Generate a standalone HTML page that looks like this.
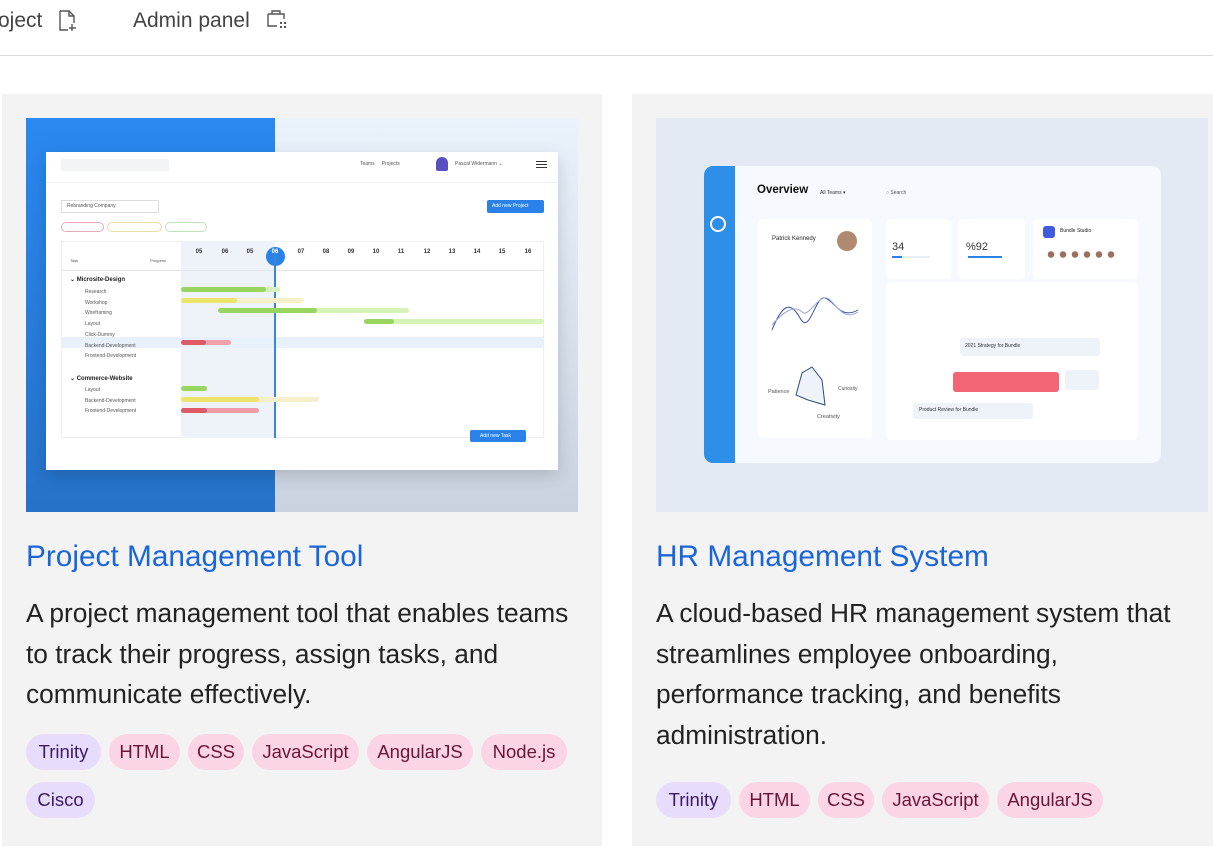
<!DOCTYPE html>
<html><head><meta charset="utf-8"><style>
*{margin:0;padding:0;box-sizing:border-box}
body{width:1213px;height:867px;overflow:hidden;background:#fff;font-family:"Liberation Sans",sans-serif;position:relative;color:#212529}
.a{position:absolute}
.nav{font-size:21px;color:#444;top:9px}
.card{background:#f3f3f3;top:94px;height:752px}
.title{font-size:29.8px;color:#1a66d9;top:540px;white-space:nowrap}
.desc{font-size:26.3px;line-height:40.5px;color:#222;top:593px;white-space:nowrap}
.tag{position:absolute;height:36px;border-radius:18px;font-size:18.5px;line-height:36px;text-align:center;white-space:nowrap}
.p{background:#e7dcfb;color:#3c1a66}
.k{background:#fbd5e5;color:#6b1535}
.t{font-size:5px;color:#555;white-space:nowrap}
.d{position:absolute;top:249px;font-size:6px;font-weight:bold;color:#333;width:16px;text-align:center}
.bar{position:absolute;height:5px;border-radius:3px}
</style></head><body>
<div class="a nav" style="left:-2px">oject</div>
<svg class="a" style="left:58px;top:9px" width="20" height="24"><path d="M2 2h9l5 5v7M2 2v19h8M11 2v5h5M14 15v7M11 19h7" fill="none" stroke="#555" stroke-width="1.4"/></svg>
<div class="a nav" style="left:133px">Admin panel</div>
<svg class="a" style="left:266px;top:9px" width="24" height="22"><path d="M6 5V2h8v3M2 5h16v5M2 5v12h9" fill="none" stroke="#555" stroke-width="1.4"/><rect x="14" y="13" width="2" height="2" fill="#555"/><rect x="18" y="13" width="2" height="2" fill="#555"/><rect x="14" y="17" width="2" height="2" fill="#555"/><rect x="18" y="17" width="2" height="2" fill="#555"/></svg>
<div class="a" style="left:0;top:55px;width:1213px;height:1px;background:#ddd"></div>

<div class="a card" style="left:2px;width:600px"></div>
<div class="a card" style="left:632px;width:600px"></div>

<!-- image 1 -->
<div class="a" style="left:26px;top:118px;width:552px;height:394px;background:linear-gradient(#eaf2fc,#c9d3df)"></div>
<div class="a" style="left:26px;top:118px;width:249px;height:394px;background:linear-gradient(#2a88f0,#2672c8)"></div>
<div class="a" style="left:46px;top:152px;width:512px;height:318px;background:#fff;box-shadow:0 6px 16px rgba(0,0,0,.15)"></div>
<div class="a" style="left:46px;top:182px;width:512px;height:1px;background:#eee"></div>
<div class="a" style="left:61px;top:159px;width:108px;height:12px;background:#f3f4f6;border-radius:2px"></div>
<div class="a t" style="left:360px;top:161px">Teams &nbsp;&nbsp;&nbsp; Projects</div>
<div class="a" style="left:436px;top:157px;width:12px;height:14px;background:#5a4fbf;border-radius:6px 6px 2px 2px"></div>
<div class="a t" style="left:455px;top:161px">Pascal Widermann ⌄</div>
<div class="a" style="left:536px;top:161px;width:11px;height:1px;background:#333;box-shadow:0 3px 0 #333,0 6px 0 #333"></div>
<div class="a" style="left:61px;top:200px;width:98px;height:13px;border:1px solid #ddd"></div>
<div class="a t" style="left:67px;top:203px">Rebranding Company</div>
<div class="a" style="left:487px;top:200px;width:57px;height:13px;background:#2a82e8;border-radius:2px"></div>
<div class="a t" style="left:492px;top:203px;color:#fff">Add new Project</div>
<div class="a" style="left:61px;top:222px;width:43px;height:10px;border:1px solid #e6a9b8;border-radius:6px"></div>
<div class="a" style="left:107px;top:222px;width:55px;height:10px;border:1px solid #e9dca5;border-radius:6px"></div>
<div class="a" style="left:165px;top:222px;width:42px;height:10px;border:1px solid #bfe3b4;border-radius:6px"></div>
<div class="a" style="left:61px;top:241px;width:483px;height:197px;border:1px solid #eee"></div>
<div class="a" style="left:181px;top:241px;width:94px;height:197px;background:#eef3fa"></div>
<div class="a" style="left:61px;top:270px;width:483px;height:1px;background:#e6e6e6"></div>
<div class="a" style="left:61px;top:337px;width:483px;height:11px;background:#e8f0fa"></div>
<div class="a" style="left:266px;top:247px;width:19px;height:19px;border-radius:50%;background:#2a82e8"></div>
<div class="a" style="left:274px;top:248px;width:1.5px;height:190px;background:#3b86d8"></div>
<div class="d" style="left:191px">05</div><div class="d" style="left:217px">06</div><div class="d" style="left:242px">05</div><div class="d" style="left:267px;color:#fff">06</div>
<div class="d" style="left:293px">07</div><div class="d" style="left:318px">08</div><div class="d" style="left:343px">09</div><div class="d" style="left:368px">10</div><div class="d" style="left:393px">11</div><div class="d" style="left:419px">12</div><div class="d" style="left:444px">13</div><div class="d" style="left:469px">14</div><div class="d" style="left:494px">15</div><div class="d" style="left:520px">16</div>
<div class="a t" style="left:70px;top:258px;font-size:4px">Task</div>
<div class="a t" style="left:150px;top:258px;font-size:4px">Progress</div>
<div class="a t" style="left:70px;top:276px;font-size:6px;font-weight:bold;color:#222">⌄ Microsite-Design</div>
<div class="a t" style="left:85px;top:287px;line-height:10.7px">Research<br>Workshop<br>Wireframing<br>Layout<br>Click-Dummy<br>Backend-Development<br>Frontend-Development</div>
<div class="a t" style="left:70px;top:375px;font-size:6px;font-weight:bold;color:#222">⌄ Commerce-Website</div>
<div class="a t" style="left:85px;top:385px;line-height:10.7px">Layout<br>Backend-Development<br>Frontend-Development</div>
<div class="bar" style="left:181px;top:287px;width:99px;background:#d6efbf"></div><div class="bar" style="left:181px;top:287px;width:85px;background:#98d661"></div>
<div class="bar" style="left:181px;top:298px;width:123px;background:#f5f0c9"></div><div class="bar" style="left:181px;top:298px;width:56px;background:#ece46b"></div>
<div class="bar" style="left:218px;top:308px;width:191px;background:#d6f4b9"></div><div class="bar" style="left:218px;top:308px;width:99px;background:#98d661"></div>
<div class="bar" style="left:364px;top:319px;width:180px;background:#d6f4b9"></div><div class="bar" style="left:364px;top:319px;width:30px;background:#98d661"></div>
<div class="bar" style="left:181px;top:340px;width:50px;background:#f0a2ac"></div><div class="bar" style="left:181px;top:340px;width:25px;background:#de5a66"></div>
<div class="bar" style="left:181px;top:386px;width:26px;background:#98d661"></div>
<div class="bar" style="left:181px;top:397px;width:138px;background:#f5f0c9"></div><div class="bar" style="left:181px;top:397px;width:78px;background:#ece46b"></div>
<div class="bar" style="left:181px;top:408px;width:78px;background:#ef9ca7"></div><div class="bar" style="left:181px;top:408px;width:26px;background:#de5a66"></div>
<div class="a" style="left:470px;top:430px;width:56px;height:12px;background:#2a82e8;border-radius:2px"></div>
<div class="a t" style="left:480px;top:433px;color:#fff">Add new Task</div>

<!-- image 2 -->
<div class="a" style="left:656px;top:118px;width:552px;height:394px;background:#e4eaf4"></div>
<div class="a" style="left:704px;top:166px;width:457px;height:297px;background:#f6f9fd;border-radius:9px;overflow:hidden"><div class="a" style="left:0;top:0;width:31px;height:297px;background:#2d8fe8"></div></div>
<div class="a" style="left:710px;top:216px;width:16px;height:16px;border:2.5px solid #fff;border-radius:50%"></div>
<div class="a" style="left:757px;top:184px;font-size:11.5px;font-weight:bold;color:#111">Overview</div>
<div class="a t" style="left:820px;top:190px;color:#333">All Teams ▾</div>
<div class="a t" style="left:886px;top:190px">○ Search</div>
<div class="a" style="left:758px;top:219px;width:114px;height:219px;background:#fff;border-radius:5px"></div>
<div class="a t" style="left:772px;top:236px;font-size:6px;color:#222">Patrick Kennedy</div>
<div class="a" style="left:837px;top:231px;width:20px;height:20px;border-radius:50%;background:#b08a70"></div>
<svg class="a" style="left:770px;top:290px" width="90" height="45"><path d="M2 40C12 15 20 10 30 28S45 5 55 8S70 30 88 20" fill="none" stroke="#3a4fa0" stroke-width="1"/><path d="M2 35C15 20 25 15 32 22S50 0 60 10S75 30 88 22" fill="none" stroke="#9aa6d8" stroke-width="1"/></svg>
<svg class="a" style="left:790px;top:365px" width="50" height="50"><polygon points="22,2 32,15 35,40 18,35 6,30 12,8" fill="#eef3fa" stroke="#2e4a80" stroke-width="1"/></svg>
<div class="a t" style="left:768px;top:389px;font-size:5.5px">Patience</div><div class="a t" style="left:838px;top:386px">Curiosity</div><div class="a t" style="left:817px;top:414px;font-size:5.5px">Creativity</div>
<div class="a" style="left:886px;top:219px;width:65px;height:60px;background:#fff;border-radius:5px"></div>
<div class="a" style="left:958px;top:219px;width:67px;height:60px;background:#fff;border-radius:5px"></div>
<div class="a" style="left:1033px;top:219px;width:105px;height:60px;background:#fff;border-radius:5px"></div>
<div class="a" style="left:892px;top:241px;font-size:11px;color:#333">34</div>
<div class="a" style="left:966px;top:241px;font-size:11px;color:#333">%92</div>
<div class="a" style="left:892px;top:256px;width:38px;height:2px;background:#e6eef8"><div style="width:10px;height:2px;background:#2a82e8"></div></div>
<div class="a" style="left:968px;top:256px;width:34px;height:2px;background:#2a82e8"></div>
<div class="a" style="left:1043px;top:226px;width:12px;height:12px;background:#3f5be0;border-radius:3px"></div>
<div class="a t" style="left:1060px;top:228px;color:#222">Bundle Studio</div>
<div class="a" style="left:1045px;top:251px;width:72px;height:7px;background:radial-gradient(circle,#9a7060 3px,transparent 3.5px) 0 0/12px 7px"></div>
<div class="a" style="left:886px;top:282px;width:252px;height:158px;background:#fff;border-radius:5px"></div>
<div class="a" style="left:960px;top:338px;width:140px;height:18px;background:#eef3fa;border-radius:3px"></div>
<div class="a t" style="left:965px;top:343px;color:#333">2021 Strategy for Bundle</div>
<div class="a" style="left:953px;top:372px;width:106px;height:20px;background:#f26673;border-radius:3px"></div>
<div class="a" style="left:1065px;top:370px;width:34px;height:20px;background:#eef3fa;border-radius:3px"></div>
<div class="a" style="left:913px;top:403px;width:120px;height:16px;background:#eef3fa;border-radius:3px"></div>
<div class="a t" style="left:919px;top:407px;color:#333">Product Review for Bundle</div>

<!-- text card 1 -->
<div class="a title" style="left:26px">Project Management Tool</div>
<div class="a desc" style="left:26px">A project management tool that enables teams<br>to track their progress, assign tasks, and<br>communicate effectively.</div>
<span class="tag p" style="left:26px;top:734px;width:75px">Trinity</span>
<span class="tag k" style="left:109px;top:734px;width:71px">HTML</span>
<span class="tag k" style="left:188px;top:734px;width:56px">CSS</span>
<span class="tag k" style="left:252px;top:734px;width:107px">JavaScript</span>
<span class="tag k" style="left:367px;top:734px;width:106px">AngularJS</span>
<span class="tag k" style="left:481px;top:734px;width:86px">Node.js</span>
<span class="tag p" style="left:26px;top:782px;width:69px">Cisco</span>

<!-- text card 2 -->
<div class="a title" style="left:656px">HR Management System</div>
<div class="a desc" style="left:656px">A cloud-based HR management system that<br>streamlines employee onboarding,<br>performance tracking, and benefits<br>administration.</div>
<span class="tag p" style="left:656px;top:782px;width:75px">Trinity</span>
<span class="tag k" style="left:739px;top:782px;width:71px">HTML</span>
<span class="tag k" style="left:818px;top:782px;width:56px">CSS</span>
<span class="tag k" style="left:882px;top:782px;width:107px">JavaScript</span>
<span class="tag k" style="left:997px;top:782px;width:106px">AngularJS</span>
</body></html>
